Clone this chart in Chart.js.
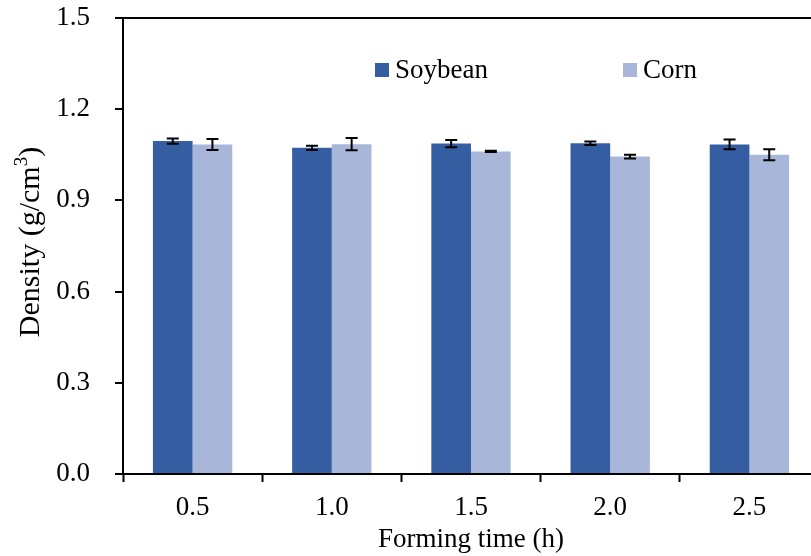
<!DOCTYPE html>
<html>
<head>
<meta charset="utf-8">
<script src="https://cdn.jsdelivr.net/npm/chart.js@4.4.1/dist/chart.umd.min.js"></script>
<style>
  html, body { margin: 0; padding: 0; background: #fff; overflow: hidden; }
  #wrap { width: 822px; height: 556px; }
</style>
</head>
<body>
<div id="wrap"><canvas id="densityChart" width="822" height="556"></canvas></div>
<script>
const categories = ['0.5', '1.0', '1.5', '2.0', '2.5'];
const soybean = [1.095, 1.073, 1.087, 1.088, 1.084];
const soybeanErr = [0.009, 0.007, 0.012, 0.006, 0.016];
const corn = [1.084, 1.085, 1.061, 1.044, 1.050];
const cornErr = [0.018, 0.020, 0.002, 0.006, 0.018];
const yTicks = [0, 0.3, 0.6, 0.9, 1.2, 1.5];
const seriesNames = ['Soybean', 'Corn'];

const FONT = '"Liberation Serif", "Times New Roman", serif';
const colors = ['#355ea2', '#a8b6da'];

// error bars drawn over the bars from the same scales
const errorBars = {
    id: 'errorBars',
    afterDatasetsDraw(chart) {
        const ctx = chart.ctx;
        const yScale = chart.scales.y;
        const errs = [soybeanErr, cornErr];
        ctx.save();
        ctx.strokeStyle = '#000';
        ctx.lineWidth = 2;
        chart.data.datasets.forEach((ds, i) => {
            const meta = chart.getDatasetMeta(i);
            meta.data.forEach((bar, j) => {
                const v = ds.data[j];
                const top = yScale.getPixelForValue(v + errs[i][j]);
                const bot = yScale.getPixelForValue(v - errs[i][j]);
                const x = bar.x;
                ctx.beginPath();
                ctx.moveTo(x, top); ctx.lineTo(x, bot);
                ctx.moveTo(x - 6, top); ctx.lineTo(x + 6, top);
                ctx.moveTo(x - 6, bot); ctx.lineTo(x + 6, bot);
                ctx.stroke();
            });
        });
        ctx.restore();
    }
};

// legend inside the plot and the y title with superscript
const extras = {
    id: 'extras',
    afterDraw(chart) {
        const ctx = chart.ctx;
        ctx.save();
        ctx.font = '27px ' + FONT;
        ctx.fillStyle = '#000';
        ctx.textBaseline = 'middle';
        const legendX = [375, 623];
        seriesNames.forEach((name, i) => {
            ctx.fillStyle = colors[i];
            ctx.fillRect(legendX[i], 63, 14, 14);
            ctx.fillStyle = '#000';
            ctx.textAlign = 'left';
            ctx.fillText(name, legendX[i] + 20, 71);
        });

        // y axis title
        ctx.translate(30, 242);
        ctx.rotate(-Math.PI / 2);
        const main = 'Density (g/cm';
        const sup = '3';
        const tail = ')';
        ctx.font = '30px ' + FONT;
        const w1 = ctx.measureText(main).width;
        const w3 = ctx.measureText(tail).width;
        ctx.font = '19px ' + FONT;
        const w2 = ctx.measureText(sup).width;
        const total = w1 + w2 + w3;
        let x = -total / 2;
        ctx.textAlign = 'left';
        ctx.textBaseline = 'alphabetic';
        ctx.font = '30px ' + FONT;
        ctx.fillText(main, x, 9);
        x += w1;
        ctx.font = '19px ' + FONT;
        ctx.fillText(sup, x, -3);
        x += w2;
        ctx.font = '30px ' + FONT;
        ctx.fillText(tail, x, 9);
        ctx.restore();
    }
};

new Chart(document.getElementById('densityChart'), {
    type: 'bar',
    data: {
        labels: categories,
        datasets: [
            {
                label: seriesNames[0],
                data: soybean,
                backgroundColor: colors[0],
                borderWidth: 0,
                barPercentage: 1.0,
                categoryPercentage: 0.57,
            },
            {
                label: seriesNames[1],
                data: corn,
                backgroundColor: colors[1],
                borderWidth: 0,
                barPercentage: 1.0,
                categoryPercentage: 0.57,
            },
        ],
    },
    options: {
        responsive: false,
        animation: false,
        devicePixelRatio: 1,
        layout: {
            padding: { top: 18, right: 3, left: 0, bottom: 0 },
        },
        scales: {
            x: {
                offset: true,
                grid: {
                    offset: true,
                    drawOnChartArea: false,
                    tickLength: 8,
                    tickColor: '#000',
                    tickWidth: 2,
                },
                border: { color: '#000', width: 2 },
                ticks: {
                    color: '#000',
                    padding: 10,
                    font: { family: FONT, size: 27 },
                },
                title: {
                    display: true,
                    text: 'Forming time (h)',
                    color: '#000',
                    padding: { top: -6, bottom: 0 },
                    font: { family: FONT, size: 27 },
                },
                afterFit(scale) {
                    scale.height = 82;
                    scale.paddingLeft = 0;
                    scale.paddingRight = 0;
                },
            },
            y: {
                min: 0,
                max: 1.5,
                afterBuildTicks(scale) {
                    scale.ticks = yTicks.map((v) => ({ value: v }));
                },
                grid: {
                    color: (ctx) => (ctx.tick && ctx.tick.value === 1.5 ? '#000' : 'rgba(0,0,0,0)'),
                    lineWidth: 2,
                    tickLength: 8,
                    tickColor: '#000',
                    tickWidth: 2,
                },
                border: { color: '#000', width: 2 },
                ticks: {
                    color: '#000',
                    padding: 25,
                    font: { family: FONT, size: 27 },
                    callback: (v) => Number(v).toFixed(1),
                },
                afterFit(scale) {
                    scale.width = 123;
                    scale.paddingTop = 0;
                    scale.paddingBottom = 0;
                },
            },
        },
        plugins: {
            legend: { display: false },
            tooltip: { enabled: false },
        },
    },
    plugins: [errorBars, extras],
});
</script>
</body>
</html>
